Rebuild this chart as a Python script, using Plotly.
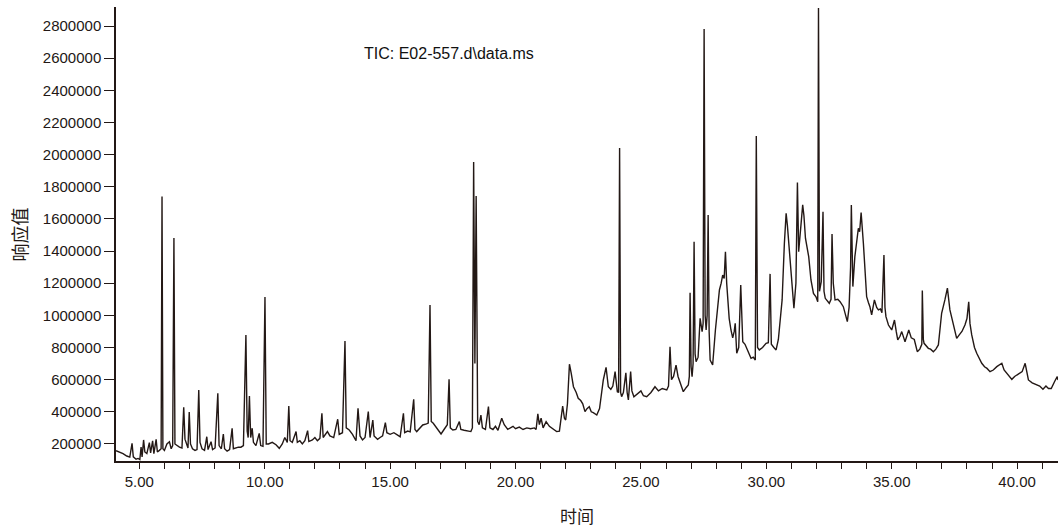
import plotly.graph_objects as go

# Retention time (min) and TIC response
time_min = [
    4.07, 4.2, 4.35, 4.5, 4.62, 4.71, 4.76, 4.87, 4.95, 5.02, 5.07, 5.11, 5.17, 5.22, 5.3, 5.4, 5.45,
    5.53, 5.58, 5.67, 5.72, 5.8, 5.87, 5.905, 5.94, 6.0, 6.1, 6.2, 6.27, 6.33, 6.38, 6.42, 6.5, 6.6,
    6.7, 6.77, 6.82, 6.88, 6.94, 6.99, 7.04, 7.12, 7.22, 7.3, 7.37, 7.42, 7.5, 7.6, 7.69, 7.74, 7.86,
    7.92, 8.02, 8.13, 8.18, 8.27, 8.35, 8.4, 8.5, 8.6, 8.7, 8.75, 8.85, 8.95, 9.05, 9.15, 9.25, 9.3,
    9.34, 9.39, 9.44, 9.5, 9.55, 9.65, 9.78, 9.84, 9.93, 10.01, 10.06, 10.15, 10.3, 10.45, 10.58, 10.7,
    10.8, 10.9, 10.96, 11.01, 11.1, 11.25, 11.3, 11.4, 11.5, 11.6, 11.71, 11.76, 11.9, 12.0, 12.1,
    12.2, 12.28, 12.33, 12.5, 12.6, 12.75, 12.91, 12.97, 13.1, 13.2, 13.25, 13.37, 13.5, 13.64, 13.72,
    13.8, 13.9, 14.0, 14.13, 14.2, 14.31, 14.36, 14.5, 14.6, 14.7, 14.81, 14.87, 15.0, 15.15, 15.3,
    15.4, 15.53, 15.58, 15.7, 15.8, 15.94, 15.99, 16.06, 16.2, 16.3, 16.45, 16.52, 16.59, 16.64, 16.72,
    16.85, 17.03, 17.15, 17.28, 17.35, 17.4, 17.5, 17.62, 17.76, 17.82, 17.95, 18.1, 18.22, 18.28,
    18.33, 18.38, 18.43, 18.49, 18.55, 18.62, 18.68, 18.8, 18.92, 18.98, 19.1, 19.2, 19.3, 19.45,
    19.55, 19.69, 19.8, 19.9, 20.0, 20.15, 20.3, 20.45, 20.6, 20.75, 20.82, 20.89, 20.95, 21.02, 21.1,
    21.22, 21.35, 21.5, 21.64, 21.75, 21.88, 21.95, 22.0, 22.07, 22.15, 22.22, 22.31, 22.42, 22.5,
    22.6, 22.68, 22.77, 22.85, 22.94, 23.02, 23.1, 23.24, 23.35, 23.5, 23.61, 23.7, 23.8, 23.88, 23.97,
    24.06, 24.11, 24.15, 24.19, 24.23, 24.3, 24.4, 24.45, 24.5, 24.59, 24.64, 24.72, 24.85, 25.0, 25.1,
    25.23, 25.4, 25.56, 25.7, 25.85, 26.03, 26.1, 26.16, 26.22, 26.3, 26.4, 26.48, 26.6, 26.69, 26.8,
    26.89, 26.93, 26.96, 27.0, 27.04, 27.08, 27.12, 27.16, 27.2, 27.28, 27.36, 27.44, 27.48, 27.52,
    27.56, 27.6, 27.64, 27.68, 27.72, 27.76, 27.86, 27.97, 28.05, 28.13, 28.2, 28.26, 28.32, 28.37,
    28.42, 28.46, 28.52, 28.59, 28.66, 28.72, 28.76, 28.82, 28.9, 28.98, 29.03, 29.06, 29.15, 29.25,
    29.39, 29.48, 29.56, 29.6, 29.65, 29.72, 29.85, 29.99, 30.08, 30.15, 30.2, 30.3, 30.39, 30.48,
    30.55, 30.63, 30.72, 30.79, 30.84, 30.89, 30.98, 31.05, 31.1, 31.18, 31.24, 31.29, 31.36, 31.45,
    31.5, 31.56, 31.69, 31.78, 31.88, 31.98, 32.05, 32.08, 32.12, 32.19, 32.26, 32.3, 32.35, 32.45,
    32.51, 32.58, 32.62, 32.67, 32.74, 32.85, 32.94, 33.07, 33.14, 33.23, 33.3, 33.36, 33.39, 33.45,
    33.53, 33.6, 33.67, 33.72, 33.78, 33.87, 33.95, 34.0, 34.07, 34.13, 34.2, 34.31, 34.4, 34.47,
    34.55, 34.61, 34.69, 34.73, 34.77, 34.87, 35.0, 35.11, 35.18, 35.24, 35.33, 35.4, 35.48, 35.53,
    35.6, 35.68, 35.78, 35.9, 36.02, 36.12, 36.2, 36.22, 36.26, 36.29, 36.46, 36.55, 36.66, 36.76,
    36.86, 36.99, 37.12, 37.17, 37.22, 37.32, 37.46, 37.59, 37.7, 37.8, 37.92, 38.0, 38.07, 38.12,
    38.19, 38.3, 38.39, 38.5, 38.59, 38.7, 38.8, 38.92, 39.05, 39.19, 39.3, 39.39, 39.48, 39.6, 39.7,
    39.79, 39.9, 40.0, 40.09, 40.2, 40.32, 40.38, 40.45, 40.6, 40.75, 40.9, 41.03, 41.15, 41.25,
    41.36, 41.5, 41.6, 41.63,
]

response = [
    158000, 150000, 140000, 125000, 118000, 204000, 120000, 105000, 110000, 103000, 181000, 120000,
    225000, 150000, 140000, 208000, 145000, 220000, 140000, 229000, 150000, 160000, 170000, 1740000,
    170000, 160000, 200000, 214000, 170000, 190000, 1482000, 200000, 190000, 180000, 175000, 428000,
    230000, 200000, 175000, 399000, 200000, 170000, 160000, 165000, 536000, 210000, 170000, 160000,
    245000, 165000, 214000, 165000, 175000, 515000, 190000, 170000, 262000, 170000, 155000, 165000,
    298000, 170000, 175000, 180000, 180000, 190000, 878000, 280000, 240000, 499000, 240000, 298000,
    210000, 190000, 266000, 190000, 185000, 1114000, 200000, 200000, 210000, 195000, 173000, 200000,
    240000, 210000, 436000, 220000, 210000, 277000, 210000, 220000, 200000, 220000, 283000, 215000,
    225000, 240000, 220000, 235000, 391000, 240000, 277000, 250000, 240000, 354000, 260000, 270000,
    841000, 300000, 287000, 260000, 220000, 422000, 250000, 225000, 240000, 401000, 240000, 349000,
    250000, 229000, 240000, 250000, 333000, 270000, 260000, 270000, 255000, 245000, 391000, 270000,
    280000, 275000, 478000, 290000, 277000, 300000, 318000, 325000, 330000, 1065000, 340000, 329000,
    300000, 262000, 290000, 320000, 602000, 300000, 287000, 290000, 339000, 290000, 285000, 280000,
    277000, 300000, 1954000, 700000, 1743000, 340000, 320000, 380000, 300000, 290000, 432000, 300000,
    290000, 310000, 285000, 360000, 320000, 291000, 300000, 310000, 295000, 305000, 290000, 300000,
    295000, 300000, 290000, 387000, 320000, 360000, 300000, 339000, 310000, 295000, 277000, 280000,
    436000, 360000, 349000, 450000, 696000, 640000, 556000, 520000, 484000, 470000, 450000, 401000,
    420000, 432000, 400000, 395000, 380000, 420000, 598000, 677000, 556000, 540000, 560000, 650000,
    525000, 520000, 2041000, 520000, 494000, 520000, 643000, 520000, 474000, 650000, 530000, 494000,
    510000, 530000, 500000, 494000, 520000, 556000, 530000, 545000, 536000, 560000, 805000, 600000,
    620000, 691000, 620000, 560000, 525000, 550000, 567000, 620000, 1141000, 680000, 619000, 700000,
    1458000, 760000, 712000, 740000, 982000, 899000, 950000, 2782000, 1000000, 909000, 1000000,
    1625000, 900000, 722000, 691000, 909000, 1050000, 1158000, 1200000, 1251000, 1230000, 1396000,
    1200000, 1096000, 980000, 909000, 860000, 900000, 951000, 764000, 800000, 1189000, 880000, 836000,
    820000, 780000, 733000, 740000, 722000, 2116000, 800000, 785000, 800000, 826000, 830000, 1258000,
    820000, 800000, 785000, 850000, 950000, 1096000, 1449000, 1635000, 1560000, 1449000, 1282000,
    1150000, 1044000, 1200000, 1826000, 1396000, 1550000, 1687000, 1620000, 1480000, 1365000,
    1220000, 1137000, 1116000, 1085000, 2912000, 1150000, 1210000, 1645000, 1150000, 1106000,
    1090000, 1075000, 1100000, 1506000, 1200000, 1096000, 1100000, 1085000, 1054000, 1013000, 961000,
    1050000, 1300000, 1687000, 1179000, 1365000, 1450000, 1542000, 1520000, 1639000, 1449000,
    1250000, 1116000, 1080000, 1054000, 1003000, 1096000, 1050000, 1034000, 1040000, 1017000,
    1376000, 1050000, 992000, 940000, 909000, 971000, 900000, 847000, 870000, 899000, 860000, 836000,
    870000, 909000, 860000, 850000, 774000, 790000, 820000, 1154000, 850000, 826000, 795000, 790000,
    774000, 790000, 816000, 1013000, 1096000, 1130000, 1169000, 1034000, 951000, 857000, 880000,
    900000, 940000, 980000, 1085000, 950000, 878000, 800000, 764000, 730000, 702000, 680000, 670000,
    650000, 660000, 681000, 690000, 702000, 660000, 640000, 620000, 602000, 620000, 630000, 643000,
    650000, 702000, 640000, 598000, 580000, 570000, 560000, 540000, 560000, 545000, 545000, 590000,
    619000, 598000,
]

x_tick_vals = list(range(5, 42))
x_tick_text = [f"{v:.2f}" if v % 5 == 0 else "" for v in x_tick_vals]
y_tick_vals = list(range(200000, 2800001, 200000))
y_tick_text = [str(v) for v in y_tick_vals]

chart_title = "TIC: E02-557.d\\data.ms"
x_title = "时间"
y_title = "响应值"

ink = "#231815"
num_font = "Liberation Sans, Arial, sans-serif"
cjk_font = "Noto Sans CJK SC, sans-serif"

fig = go.Figure()
fig.add_trace(go.Scatter(
    x=time_min, y=response, mode="lines",
    line=dict(color=ink, width=1.4),
    hoverinfo="x+y",
))

fig.update_layout(
    width=1058, height=527,
    margin=dict(l=116, r=0, t=7, b=66),
    paper_bgcolor="white", plot_bgcolor="white",
    showlegend=False,
    xaxis=dict(
        range=[4.07, 41.63], tickmode="array", tickvals=x_tick_vals, ticktext=x_tick_text,
        ticks="outside", ticklen=6, tickwidth=1, tickcolor=ink,
        showline=True, linecolor=ink, linewidth=1.5,
        showgrid=False, zeroline=False,
        tickfont=dict(family=num_font, size=15, color=ink),
    ),
    yaxis=dict(
        range=[94000, 2918300], tickmode="array", tickvals=y_tick_vals, ticktext=y_tick_text,
        ticks="outside", ticklen=10, tickwidth=1, tickcolor=ink,
        showline=True, linecolor=ink, linewidth=1.5,
        showgrid=False, zeroline=False,
        tickfont=dict(family=num_font, size=15, color=ink),
    ),
    annotations=[
        dict(text=chart_title, xref="paper", yref="paper", x=0.3535, y=0.897,
             xanchor="center", yanchor="middle", showarrow=False,
             font=dict(family=num_font, size=16, color="#111111")),
        dict(text=x_title, xref="paper", yref="paper", x=0.489, y=-0.119,
             xanchor="center", yanchor="middle", showarrow=False,
             font=dict(family=cjk_font, size=17, color=ink)),
        dict(text=y_title, xref="paper", yref="paper", x=-0.1035, y=0.498,
             xanchor="center", yanchor="middle", showarrow=False, textangle=-90,
             font=dict(family=cjk_font, size=18, color=ink)),
    ],
)

fig.write_html(
    "out.html",
    config={"displayModeBar": False},
    post_script="document.body.style.margin='0';document.body.style.overflow='hidden';",
)
